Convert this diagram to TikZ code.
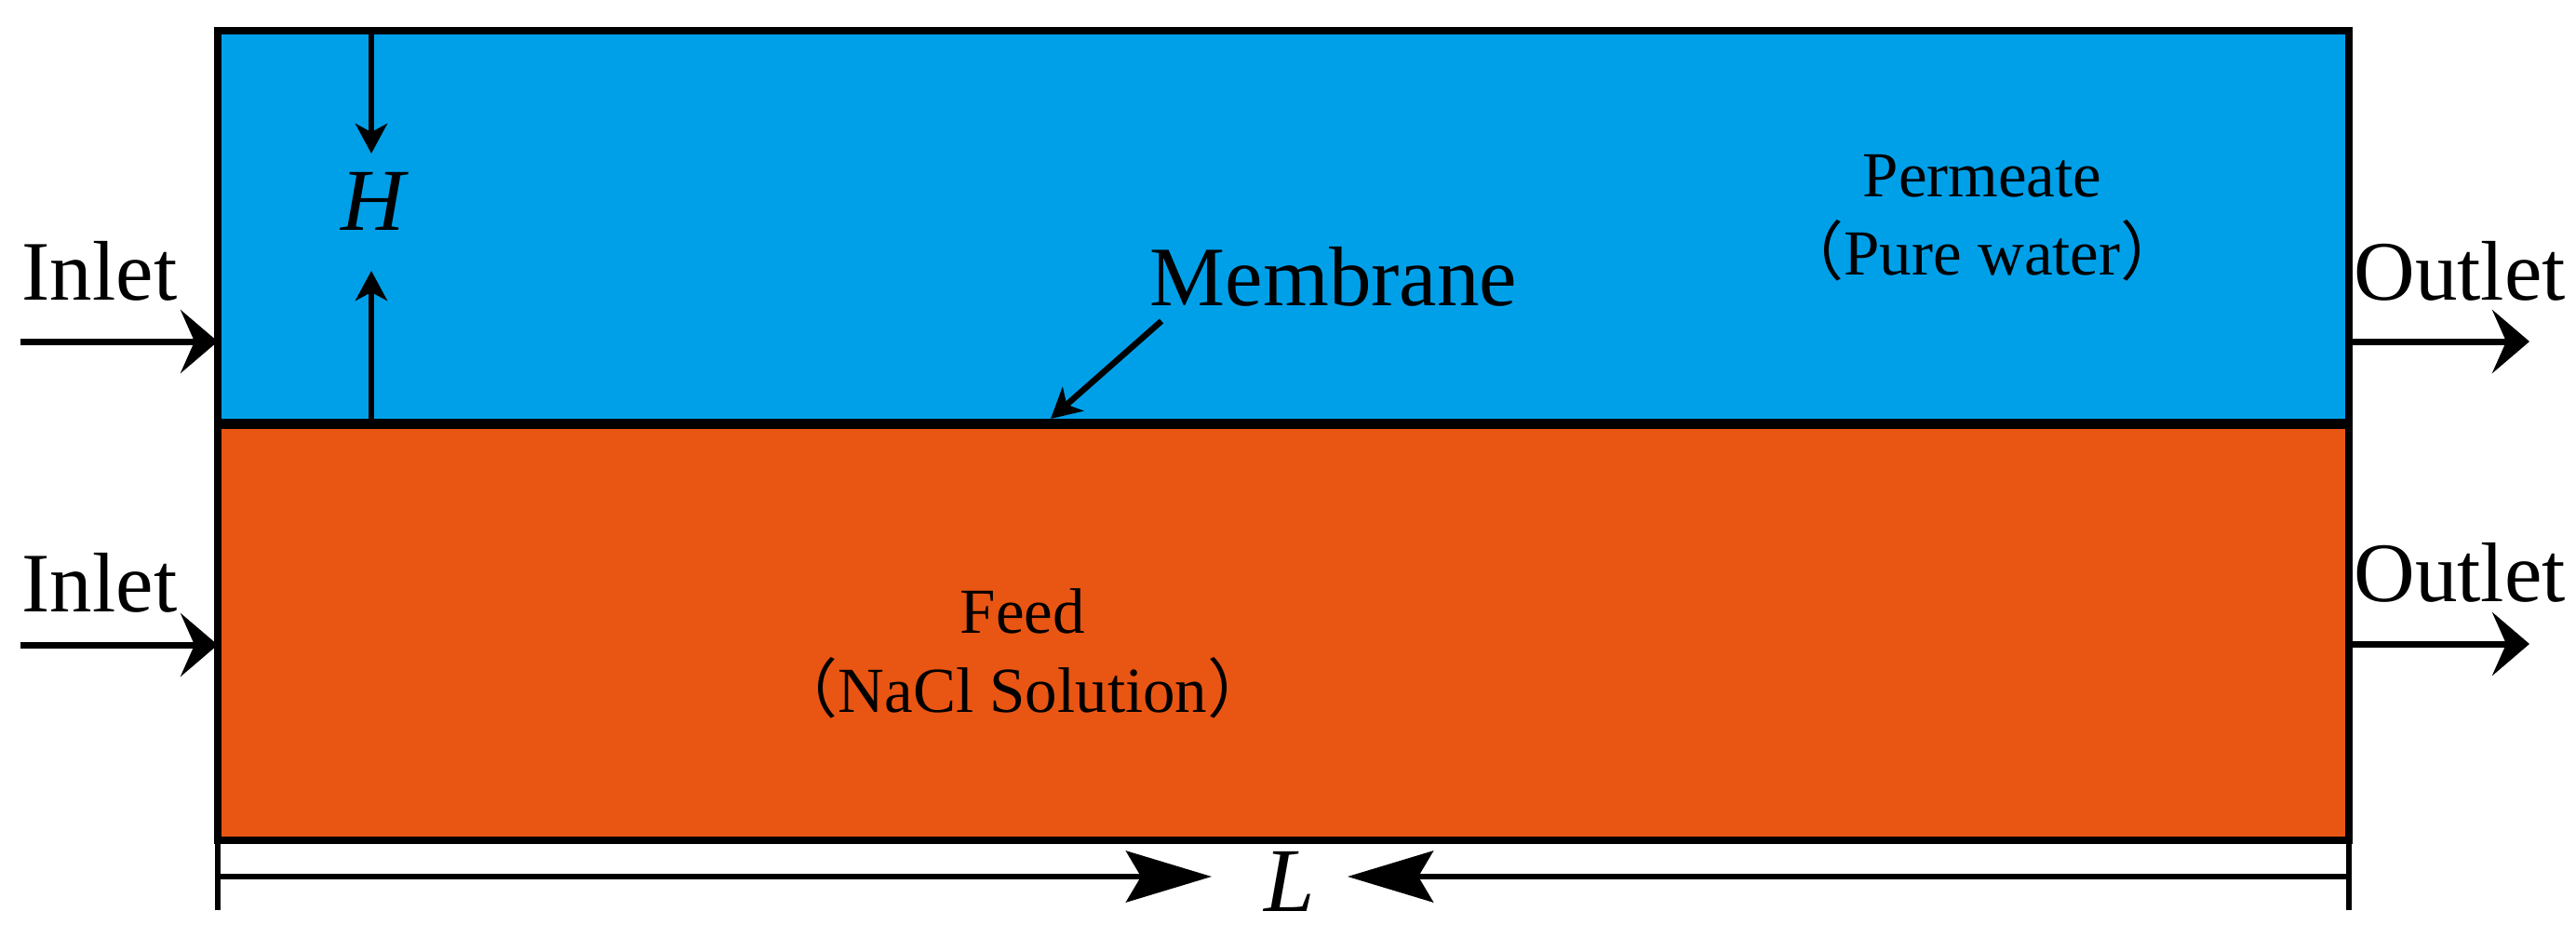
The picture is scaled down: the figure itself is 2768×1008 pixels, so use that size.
\documentclass[tikz,border=0pt]{standalone}
\usepackage{fontspec}
\usepackage{tikz}
\usetikzlibrary{arrows.meta}
\setmainfont{Liberation Serif}
\newfontfamily\cjk{Noto Sans CJK SC}
\definecolor{permblue}{HTML}{00A0E9}
\definecolor{feedorange}{HTML}{E95513}
\tikzset{
  chan/.style={draw,line width=8pt,minimum width=2290pt,inner sep=0pt,outer sep=0pt,anchor=north west},
  flow/.style={line width=7pt,-{Stealth[length=40pt,width=68pt,inset=15pt]}},
  gap/.style={line width=6.5pt,-{Stealth[length=32pt,width=34pt,inset=9pt]}},
  span/.style={line width=6.5pt,-{Stealth[length=92pt,width=55pt,inset=16pt]}},
  big/.style={font=\fontsize{91}{91}\selectfont,inner sep=0pt,anchor=base},
  small/.style={font=\fontsize{69}{69}\selectfont,inner sep=0pt,anchor=base}
}
\begin{document}
\begin{tikzpicture}[x=1pt,y=-1pt]
  \useasboundingbox (0,0) rectangle (2768,1008);
  \node [chan,fill=permblue,minimum height=422pt] (perm) at (234,33) {};
  \node [chan,fill=feedorange,minimum height=448pt] (feed) at (234,455) {};
  \draw [line width=11pt] (perm.south west) -- (perm.south east);
  % labels
  \node [big] (in1) at (107,323) {Inlet};
  \node [big] (in2) at (107,657) {Inlet};
  \node [big] (out1) at (2643,323) {Outlet};
  \node [big] (out2) at (2643,646) {Outlet};
  \node [big] (mem) at (1433,328) {Membrane};
  \node [big,font=\fontsize{95}{95}\selectfont\itshape] (hgt) at (401,248) {H};
  \node [big,font=\fontsize{98}{98}\selectfont\itshape] (len) at (1386,979) {L};
  \node [small] (perm1) at (2130,212) {Permeate};
  \node [small] (perm2) at (2130,296) {{\cjk （}Pure water{\cjk ）}};
  \node [small] (feed1) at (1099,680) {Feed};
  \node [small] (feed2) at (1099,765) {{\cjk （}NaCl Solution{\cjk ）}};
  % free ends
  \coordinate (a1) at (22,367);
  \coordinate (a2) at (22,693);
  \coordinate (b1) at (2718,367);
  \coordinate (b2) at (2718,692);
  \draw [flow] (a1) -- (perm.west |- a1);
  \draw [flow] (a2) -- (feed.west |- a2);
  \draw [flow] (perm.east |- b1) -- (b1);
  \draw [flow] (feed.east |- b2) -- (b2);
  \coordinate (ht) at (399,33);
  \coordinate (hb) at (399,455);
  \coordinate (hm1) at (399,165);
  \coordinate (hm2) at (399,291);
  \draw [gap] (ht) -- (hm1);
  \draw [gap] (hb) -- (hm2);
  \coordinate (ms) at (1248,345);
  \coordinate (mt) at (1129,450);
  \draw [gap] (ms) -- (mt);
  % length bar
  \coordinate (lb) at (234,978);
  \coordinate (rb) at (2524,978);
  \coordinate (lm) at (1302,942);
  \coordinate (rm) at (1448,942);
  \draw [line width=6.5pt] (lb) -- (feed.south west);
  \draw [line width=6.5pt] (rb) -- (feed.south east);
  \draw [span] (lb |- lm) -- (lm);
  \draw [span] (rb |- rm) -- (rm);
\end{tikzpicture}
\end{document}
